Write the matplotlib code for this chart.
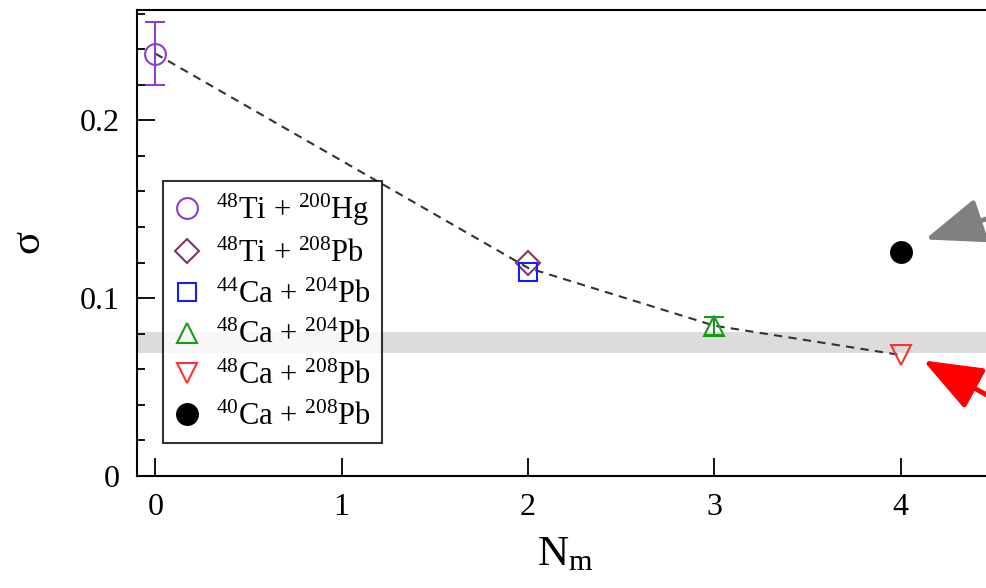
import matplotlib
matplotlib.use("Agg")
import matplotlib.pyplot as plt
from matplotlib.ticker import MultipleLocator

plt.rcParams["font.family"] = ["Liberation Serif", "DejaVu Serif"]
plt.rcParams["mathtext.default"] = "regular"

# data
labels = [r"$^{48}$Ti + $^{200}$Hg", r"$^{48}$Ti + $^{208}$Pb", r"$^{44}$Ca + $^{204}$Pb",
          r"$^{48}$Ca + $^{204}$Pb", r"$^{48}$Ca + $^{208}$Pb", r"$^{40}$Ca + $^{208}$Pb"]
n_m = [0, 2, 2, 3, 4, 4]
sigma = [0.2375, 0.120, 0.1145, 0.0845, 0.0680, 0.1260]
sigma_err = [0.0175, 0.0, 0.0, 0.0050, 0.0, 0.0]
markers = ["o", "D", "s", "^", "v", "o"]
colors = ["#8a3fd0", "#7a3868", "#1a1aff", "#1a9a1a", "#ff3030", "#000000"]
filled = [False, False, False, False, False, True]
sizes = [15, 12, 13, 14, 14, 15]

trend_x = [0, 2, 3, 4]
trend_y = [0.2375, 0.117, 0.0845, 0.0680]

band = (0.069, 0.0812)

fig = plt.figure(figsize=(9.86, 5.88), dpi=100)
ax = fig.add_axes([0.1386, 0.1905, 0.8695, 0.7925])

ax.axhspan(band[0], band[1], color="#dcdcdc", lw=0, zorder=0)
ax.plot(trend_x, trend_y, ls=(0, (4, 3)), color="#333333", lw=1.5, zorder=2)

handles = []
for x, y, e, m, c, f, s, lab in zip(n_m, sigma, sigma_err, markers, colors, filled, sizes, labels):
    if e > 0:
        ax.errorbar(x, y, yerr=e, fmt="none", ecolor=c, elinewidth=1.5,
                    capsize=7, capthick=1.5, zorder=3)
    h, = ax.plot(x, y, marker=m, ms=s, mec=c, mew=1.5,
                 mfc=c if f else "none", ls="none", label=lab, zorder=4)
    handles.append(h)

ax.set_xlim(-0.1, 4.5)
ax.set_ylim(0, 0.262)
ax.xaxis.set_major_locator(MultipleLocator(1))
ax.yaxis.set_major_locator(MultipleLocator(0.1))
ax.yaxis.set_minor_locator(MultipleLocator(0.02))
ax.yaxis.set_major_formatter(plt.FuncFormatter(lambda v, p: "0" if v == 0 else f"{v:g}"))
ax.tick_params(which="major", direction="in", length=13, width=1.3, labelsize=23)
ax.tick_params(which="minor", direction="in", length=6, width=1.3)
ax.tick_params(axis="x", pad=12)
ax.tick_params(axis="y", pad=12)
for sp in ax.spines.values():
    sp.set_linewidth(1.5)

ax.set_xlabel(r"$N_m$", fontsize=31, labelpad=10)
ax.set_ylabel(r"$\sigma$", fontsize=31, labelpad=22)

leg = ax.legend(handles=handles, loc="upper left", bbox_to_anchor=(0.0307, 0.633),
                borderaxespad=0, fontsize=22, frameon=True, fancybox=False,
                handlelength=0.9, handletextpad=0.5, labelspacing=0.38,
                borderpad=0.35, edgecolor="black")
leg.get_frame().set_linewidth(1.5)

# pointer arrows coming in from the cropped right side
arrow_style = "-|>,head_length=1.3,head_width=0.5"
ax.annotate("", xy=(4.13, 0.133), xytext=(4.7, 0.153), annotation_clip=False,
            arrowprops=dict(arrowstyle=arrow_style, color="#808080", lw=3.5,
                            mutation_scale=28, shrinkA=0, shrinkB=0), zorder=5)
ax.annotate("", xy=(4.12, 0.0650), xytext=(4.7, 0.0320), annotation_clip=False,
            arrowprops=dict(arrowstyle=arrow_style, color="#ff0000", lw=3.5,
                            mutation_scale=28, shrinkA=0, shrinkB=0), zorder=5)

fig.savefig("out.png", dpi=100)
